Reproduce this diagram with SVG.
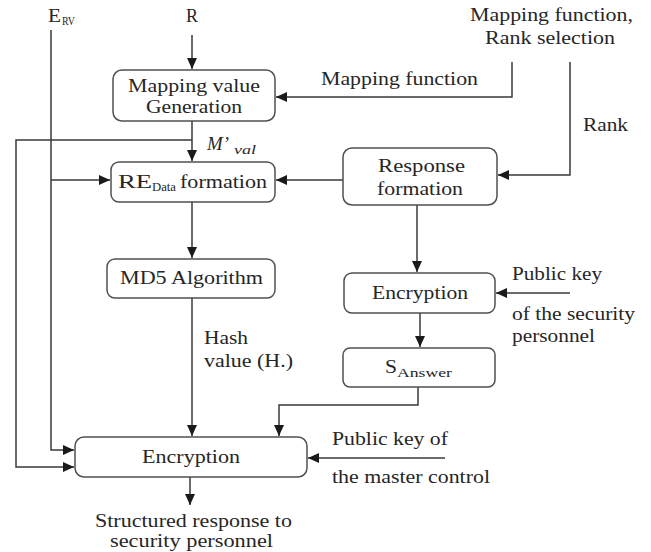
<svg xmlns="http://www.w3.org/2000/svg" width="651" height="552" viewBox="0 0 651 552">
<style>
text{font-family:"Liberation Serif","DejaVu Serif",serif;font-size:18px;fill:#262626}
.box{fill:#fff;stroke:#505050;stroke-width:1.5}
.ln{fill:none;stroke:#3a3a3a;stroke-width:1.5}
.sub{font-size:12px}
</style>
<defs>
<marker id="ah" markerUnits="userSpaceOnUse" markerWidth="12" markerHeight="10" refX="11" refY="5" orient="auto">
<path d="M0,0 L11,5 L0,10 Z" fill="#1a1a1a"/>
</marker>
</defs>
<rect width="651" height="552" fill="#fff"/>
<g id="connectors">
<path class="ln" d="M192,35 V69" marker-end="url(#ah)"/>
<path class="ln" d="M512,62 V97 H276" marker-end="url(#ah)"/>
<path class="ln" d="M570,62 V175 H498" marker-end="url(#ah)"/>
<path class="ln" d="M343,180 H276" marker-end="url(#ah)"/>
<path class="ln" d="M192,121 V161" marker-end="url(#ah)"/>
<path class="ln" d="M192,140 H16 V467 H74" marker-end="url(#ah)"/>
<path class="ln" d="M51,30 V450 H74" marker-end="url(#ah)"/>
<path class="ln" d="M51,180 H110" marker-end="url(#ah)"/>
<path class="ln" d="M192,202 V258" marker-end="url(#ah)"/>
<path class="ln" d="M192,298 V436" marker-end="url(#ah)"/>
<path class="ln" d="M417,205 V272" marker-end="url(#ah)"/>
<path class="ln" d="M570,293 H496" marker-end="url(#ah)"/>
<path class="ln" d="M420,313 V347" marker-end="url(#ah)"/>
<path class="ln" d="M418,387 V405 H279 V436" marker-end="url(#ah)"/>
<path class="ln" d="M445,458 H308" marker-end="url(#ah)"/>
<path class="ln" d="M190,477 V505" marker-end="url(#ah)"/>
</g>
<g id="labels">
<text x="48" y="22" textLength="13" lengthAdjust="spacingAndGlyphs">E</text><text class="sub" x="62" y="25" textLength="13" lengthAdjust="spacingAndGlyphs">RV</text>
<text x="192" y="22" text-anchor="middle">R</text>
<text x="470" y="21" textLength="163" lengthAdjust="spacingAndGlyphs">Mapping function,</text>
<text x="485" y="44" textLength="130" lengthAdjust="spacingAndGlyphs">Rank selection</text>
<text x="321" y="85" textLength="157" lengthAdjust="spacingAndGlyphs">Mapping function</text>
<text x="583" y="131" textLength="45" lengthAdjust="spacingAndGlyphs">Rank</text>
<text x="207" y="150" font-style="italic" textLength="22" lengthAdjust="spacingAndGlyphs">M’</text><text class="sub" x="234" y="154" font-style="italic" textLength="22" lengthAdjust="spacingAndGlyphs">val</text>
<text x="204" y="344" textLength="44" lengthAdjust="spacingAndGlyphs">Hash</text>
<text x="204" y="367" textLength="89" lengthAdjust="spacingAndGlyphs">value (H.)</text>
<text x="512" y="280" textLength="90" lengthAdjust="spacingAndGlyphs">Public key</text>
<text x="512" y="320" textLength="123" lengthAdjust="spacingAndGlyphs">of the security</text>
<text x="512" y="342" textLength="83" lengthAdjust="spacingAndGlyphs">personnel</text>
<text x="332" y="445" textLength="116" lengthAdjust="spacingAndGlyphs">Public key of</text>
<text x="332" y="483" textLength="158" lengthAdjust="spacingAndGlyphs">the master control</text>
<text x="95" y="527" textLength="197" lengthAdjust="spacingAndGlyphs">Structured response to</text>
<text x="110" y="547" textLength="163" lengthAdjust="spacingAndGlyphs">security personnel</text>
</g>
<g id="mapping">
<rect class="box" x="113" y="70" width="162" height="51" rx="9"/>
<text x="128" y="92" textLength="132" lengthAdjust="spacingAndGlyphs">Mapping value</text>
<text x="146" y="113" textLength="96" lengthAdjust="spacingAndGlyphs">Generation</text>
</g>
<g id="response">
<rect class="box" x="343" y="148" width="154" height="57" rx="9"/>
<text x="378" y="172" textLength="87" lengthAdjust="spacingAndGlyphs">Response</text>
<text x="377" y="195" textLength="86" lengthAdjust="spacingAndGlyphs">formation</text>
</g>
<g id="redata">
<rect class="box" x="111" y="162" width="164" height="40" rx="8"/>
<text x="118" y="188" textLength="34" lengthAdjust="spacingAndGlyphs">RE</text><text class="sub" x="152" y="191" textLength="24" lengthAdjust="spacingAndGlyphs">Data</text><text x="180" y="188" textLength="87" lengthAdjust="spacingAndGlyphs">formation</text>
</g>
<g id="md5">
<rect class="box" x="107" y="259" width="168" height="39" rx="8"/>
<text x="120" y="284" textLength="143" lengthAdjust="spacingAndGlyphs">MD5 Algorithm</text>
</g>
<g id="enc1">
<rect class="box" x="344" y="273" width="151" height="40" rx="8"/>
<text x="372" y="299" textLength="96" lengthAdjust="spacingAndGlyphs">Encryption</text>
</g>
<g id="sanswer">
<rect class="box" x="343" y="348" width="152" height="39" rx="7"/>
<text x="385" y="373" font-size="19" textLength="12" lengthAdjust="spacingAndGlyphs">S</text><text class="sub" x="397" y="377" textLength="55" lengthAdjust="spacingAndGlyphs">Answer</text>
</g>
<g id="enc2">
<rect class="box" x="75" y="437" width="232" height="40" rx="9"/>
<text x="142" y="463" textLength="98" lengthAdjust="spacingAndGlyphs">Encryption</text>
</g>
</svg>
